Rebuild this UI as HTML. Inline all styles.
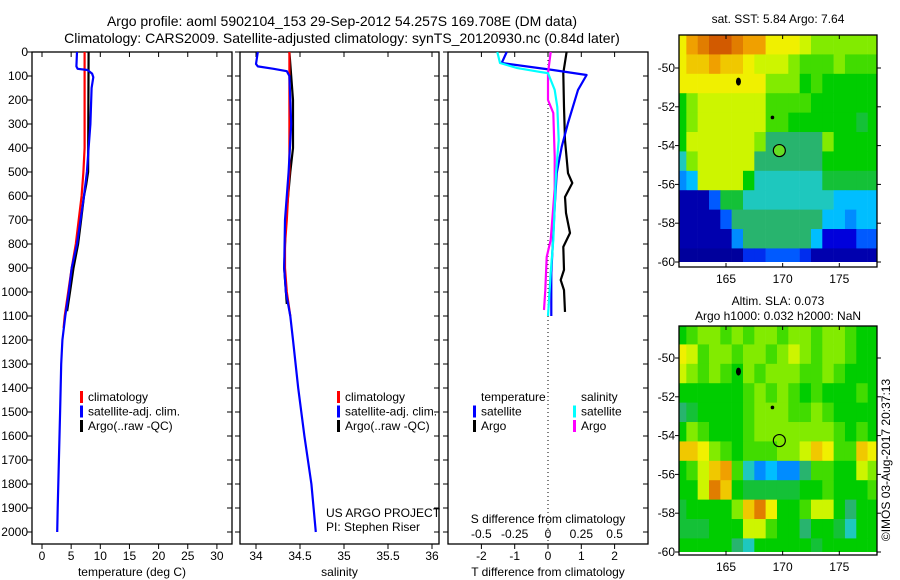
<!DOCTYPE html>
<html><head><meta charset="utf-8">
<style>
html,body{margin:0;padding:0;background:#fff;}
svg{display:block;font-family:"Liberation Sans",sans-serif;}
text{fill:#000;}
</style></head>
<body>
<svg id="chart" width="900" height="580" viewBox="0 0 900 580" xmlns="http://www.w3.org/2000/svg">
<text x="342" y="26" font-size="14" text-anchor="middle">Argo profile: aoml 5902104_153 29-Sep-2012 54.257S 169.708E (DM data)</text>
<text x="342" y="43" font-size="14" text-anchor="middle">Climatology: CARS2009. Satellite-adjusted climatology: synTS_20120930.nc (0.84d later)</text>
<g id="g"></g>
</svg>
<script>
// ---- Temperature panel data (depth m, deg C)
const tSatDepth = [0,60,70,75,90,105,150,300,400,500,600,700,800,900,1000,1100,1200,1300,1500,1700,1900,2000];
const tSatVal   = [6.0,5.9,6.1,7.8,8.6,8.8,8.5,8.3,8.0,7.7,7.2,6.6,6.0,5.1,4.6,4.0,3.5,3.3,3.1,2.9,2.7,2.6];
const tClimDepth = [0,400,500,600,700,800,900,1000,1100,1150];
const tClimVal   = [7.3,7.3,7.1,6.8,6.3,5.8,5.1,4.5,3.9,3.7];
const tArgoDepth = [0,500,550,600,700,800,900,1000,1080];
const tArgoVal   = [8.0,7.9,7.6,7.2,6.7,6.2,5.4,4.8,4.3];
// ---- Salinity panel data
const sSatDepth = [0,50,60,70,80,100,300,500,700,900,1000,1100,1200,1400,1600,1800,2000];
const sSatVal   = [34.02,34.0,34.02,34.2,34.35,34.38,34.4,34.37,34.33,34.32,34.34,34.39,34.42,34.48,34.55,34.63,34.68];
const sClimDepth = [0,500,700,800,900,1000,1100];
const sClimVal   = [34.38,34.38,34.35,34.33,34.33,34.35,34.39];
const sArgoDepth = [0,200,400,500,700,900,1050];
const sArgoVal   = [34.38,34.42,34.42,34.39,34.34,34.32,34.35];
// ---- Difference panel data
const dTSatDepth = [0,46,75,96,158,296,395,505,645,783,920,1100];
const dTSatVal   = [-1.24,-1.39,0.15,1.16,0.9,0.6,0.41,0.26,0.2,0.15,0.1,0.1];
const dTArgoDepth = [0,88,229,367,505,546,604,671,754,812,908,950,992,1083];
const dTArgoVal   = [0.56,0.46,0.48,0.51,0.6,0.73,0.51,0.54,0.66,0.46,0.48,0.38,0.48,0.51];
const dSSatDepth = [0,46,67,83,88,158,229,367,505,645,783,920,1100];
const dSSatVal   = [-0.38,-0.36,-0.23,-0.06,0.0,0.05,0.07,0.08,0.06,0.05,0.04,0.02,0.0];
const dSArgoDepth = [0,88,200,254,437,570,783,854,992,1075];
const dSArgoVal   = [0.02,0.0,0.0,0.04,0.05,0.05,0.02,-0.01,-0.02,-0.03];
// ---- Map data
const mapLons = [161,162,163,164,165,166,167,168,169,170,171,172,173,174,175,176,177,178];
const mapLats = [-48.8,-49.8,-50.8,-51.8,-52.8,-53.8,-54.8,-55.8,-56.8,-57.8,-58.8,-59.8];
const sstGrid = [
 [7,8,8.5,9,9,8.5,8,8,7,7,7,6.5,6,6,6,6,6,6],
 [7,7.5,7.5,8,7.5,7.5,7,6.5,6.5,6.5,6,5.5,5.5,5.5,6,5.5,5.5,5.5],
 [7,7,7,7,7,7,7,7,6,6,6,5,5.5,5,5,5,5,5],
 [5,6,6.5,6.5,6.5,6.5,6.5,6.5,5.5,5.5,5.5,5.5,5,5,5,5,5,5],
 [5,6,6.5,6.5,6.5,6.5,6.5,6.5,5.5,5.5,5,5,5,5,5,5,4.5,5],
 [5,6.5,6.5,6.5,6.5,6.5,6.5,6,4,4,4,4,4,6,5,5,5,5],
 [3.5,6,6.5,6.5,6.5,6.5,6.5,4,4,4,4,4,4,5,5,5,5,5],
 [2.5,3,6.5,6.5,6.5,6.5,5,3.5,3.5,3.5,3.5,3.5,3.5,4.5,4.5,4.5,4.5,4.5],
 [0.5,0.5,0.5,2,4.5,4.5,3.5,3.5,3.5,3.5,3.5,3.5,3.5,3.5,3,3,3,3],
 [0.5,0.5,0.5,0.5,2,4,4,4,4,4,4,4,4,3,3,2.5,3,3],
 [0.5,0.5,0.5,0.5,0.5,2.5,4,4,4,4,4,4,3,1,1,1,2,2],
 [0.3,0.3,0.3,0.3,0.3,0.3,1.5,1.5,2,2,2,1.5,0.5,0.5,0.5,0.5,0.5,0.5]
];
const slaGrid = [
 [5,5.5,6,6,5.5,6,5.5,6,6,5.5,6,6,5.5,6,6,5.5,5,5],
 [7,6.5,5.5,6,6,5.5,6,6,5.5,6,6.5,6,5.5,6,6,5.5,5,5],
 [6.5,6,5.5,6,5.5,5,6,5.5,6,6,6,5.5,5.5,6,5.5,5,5,5],
 [5,5,5,5,5,5,5.5,6,5.5,6,5.5,5,5.5,5,5,5,5.5,5],
 [4,4.5,5,5,5,5,5.5,6,6,6,5.5,5.5,6,5.5,5,5,5,5],
 [5,6,5.5,5,5,5,5.5,6,6,6,6,6,6,6,5.5,5,5.5,5],
 [7.5,7.5,7,6,5.5,5,5.5,5.5,5.5,6,6,6.5,7.5,7,5.5,5.5,7.5,7],
 [5,5.5,6.5,7.5,8,5.5,3.5,2.5,3,2.5,2.5,4,5.5,5.5,5,5,6.5,6],
 [5,5,6.5,8.5,7.5,5,4.5,4.5,4.5,4.5,4.5,5,5,5.5,5,5,5,5.5],
 [4.5,5,5,5,5,6,7.5,8.5,7,5,5,5.5,6.5,6.5,5,4,5,5],
 [4.5,4.5,4.5,5,5,5,6.5,6.5,5.5,5,5,4,5,5,4.5,3.5,5,5],
 [5,5,5,5,5,4,3.5,5,5,5,5,5,4.5,5,5,5,5,5]
];
const argoLon = [169.708], argoLat = [-54.257];

const NS="http://www.w3.org/2000/svg";
const G=document.getElementById('g');
function mk(tag,attrs,parent){const e=document.createElementNS(NS,tag);for(const k in attrs)e.setAttribute(k,attrs[k]);(parent||G).appendChild(e);return e;}
function txt(x,y,s,size,anchor,parent){const t=mk('text',{x:x,y:y,'font-size':size||12,'text-anchor':anchor||'middle'},parent);t.textContent=s;return t;}

const TOP=52, BOT=544, PXM=0.24;
const yD = d => TOP + d*PXM;

function panel(name,x0,x1,xf,ticks,tickLabels,xlabel){
  const g=mk('g',{});
  
  
  const r=mk('rect',{x:x0,y:TOP,width:x1-x0,height:BOT-TOP,fill:'none',stroke:'#000','stroke-width':1.3},g);
  
  
  ticks.forEach((v,i)=>{const x=xf(v);
    mk('line',{x1:x,x2:x,y1:BOT,y2:BOT+5,stroke:'#000'},g);
    mk('line',{x1:x,x2:x,y1:TOP,y2:TOP+5,stroke:'#000'},g);
    if(tickLabels){const t=txt(x,560,tickLabels[i],12,'middle',g);
      
      }
  });
  for(let d=0;d<=2000;d+=100){const y=yD(d);
    mk('line',{x1:x0-5,x2:x0,y1:y,y2:y,stroke:'#000'},g);
    mk('line',{x1:x1-5,x2:x1,y1:y,y2:y,stroke:'#000'},g);}
  if(xlabel){const t=txt((x0+x1)/2,576,xlabel,12,'middle',g);
    
    }
  return g;
}
function line(depths,vals,xf,color,name,w){
  const pts=depths.map((d,i)=>xf(vals[i]).toFixed(1)+','+yD(d).toFixed(1)).join(' ');
  const p=mk('polyline',{points:pts,fill:'none',stroke:color,'stroke-width':w||2.2,'stroke-linejoin':'round'});
  
  
}
function legend(x,entries,yStart){
  entries.forEach((e,i)=>{const y=yStart+i*14.5;
    const m=mk('rect',{x:x,y:y-10,width:3,height:12,fill:e[1]});
    
    
    const t=txt(x+8,y,e[0],12,'start');
    
    });
}

for(let d=0;d<=2000;d+=100){const t=txt(28,yD(d)+4,String(d),12,'end');
  
  }

const xT = v => 42 + v*5.83;
panel('temperature-panel',32,232,xT,[0,5,10,15,20,25,30],['0','5','10','15','20','25','30'],'temperature (deg C)');
line(tArgoDepth,tArgoVal,xT,'#000','temp-argo-line');
line(tClimDepth,tClimVal,xT,'#f00','temp-climatology-line');
line(tSatDepth,tSatVal,xT,'#0000ff','temp-satellite-line');
legend(80,[['climatology','#f00'],['satellite-adj. clim.','#00f'],['Argo(..raw -QC)','#000']],401);

const xS = v => 256 + (v-34)*88;
panel('salinity-panel',240,439,xS,[34,34.5,35,35.5,36],['34','34.5','35','35.5','36'],'salinity');
line(sArgoDepth,sArgoVal,xS,'#000','sal-argo-line');
line(sClimDepth,sClimVal,xS,'#f00','sal-climatology-line');
line(sSatDepth,sSatVal,xS,'#0000ff','sal-satellite-line');
legend(337,[['climatology','#f00'],['satellite-adj. clim.','#00f'],['Argo(..raw -QC)','#000']],401);
txt(326,517,'US ARGO PROJECT',12,'start');
txt(326,531,'PI: Stephen Riser',12,'start');

const xDT = v => 548 + v*33.3;
const xDS = v => 548 + v*133.3;
panel('difference-panel',448,648,xDT,[-2,-1,0,1,2],['-2','-1','0','1','2'],'T difference from climatology');
[-0.5,-0.25,0,0.25,0.5].forEach(v=>{const t=txt(xDS(v),538,String(v),12,'middle');
  
  });
txt(548,523,'S difference from climatology',12,'middle');
const zl=mk('line',{x1:xDT(0),x2:xDT(0),y1:TOP,y2:BOT,stroke:'#000','stroke-dasharray':'1,3'});


line(dTArgoDepth,dTArgoVal,xDT,'#000','dt-argo-line');
line(dTSatDepth,dTSatVal,xDT,'#0000ff','dt-satellite-line');
line(dSArgoDepth,dSArgoVal,xDS,'#ff00ff','ds-argo-line');
line(dSSatDepth,dSSatVal,xDS,'#00ffff','ds-satellite-line');
txt(481,401,'temperature',12,'start');
txt(581,401,'salinity',12,'start');
legend(473,[['satellite','#00f'],['Argo','#000']],415.5);
legend(573,[['satellite','#0ff'],['Argo','#f0f']],415.5);

const cmapStops=[[0,[0,0,128]],[1,[0,0,220]],[2,[0,90,255]],[3,[0,190,255]],[3.5,[30,200,190]],[4,[40,180,110]],[5,[0,205,0]],[6,[130,235,0]],[6.5,[205,245,0]],[7,[240,240,0]],[8,[240,160,0]],[9,[210,90,0]]];
function cmap(v){for(let i=1;i<cmapStops.length;i++){if(v<=cmapStops[i][0]){const a=cmapStops[i-1],b=cmapStops[i];const f=(v-a[0])/(b[0]-a[0]);
  const c=a[1].map((x,k)=>Math.round(x+(b[1][k]-x)*f));return 'rgb('+c.join(',')+')';}}return 'rgb(210,90,0)';}

function drawMap(name,top,bot,lat50y,grid,fillCircle,title1,title2){
  const x0=679,x1=877;
  const px=lon=>726+(lon-165)*11.33;
  const py=lat=>lat50y+(-50-lat)*19.4;
  const g=mk('g',{});
  
  
  const cp=mk('clipPath',{id:name+'-clip'},g);
  mk('rect',{x:x0,y:top,width:x1-x0,height:py(-60)-top},cp);
  const cells=mk('g',{'clip-path':'url(#'+name+'-clip)'},g);
  grid.forEach((row,r)=>row.forEach((v,c)=>{
    const lon=mapLons[c],lat=mapLats[r];
    const cell=mk('rect',{x:px(lon-0.5),y:py(lat+0.5),width:11.6,height:19.8,fill:cmap(v)},cells);
    
    
  }));
  const isl=mk('ellipse',{cx:px(166.1),cy:py(-50.7),rx:2.5,ry:4,fill:'#000'},g);
  
  
  const isl2=mk('circle',{cx:px(169.1),cy:py(-52.55),r:1.8,fill:'#000'},g);
  
  
  const pt=mk('circle',{cx:px(argoLon[0]),cy:py(argoLat[0]),r:6,fill:fillCircle,stroke:'#000','stroke-width':1.2},g);
  
  
  mk('rect',{x:x0,y:top,width:x1-x0,height:bot-top,fill:'none',stroke:'#000','stroke-width':1.3},g);
  [165,170,175].forEach(l=>{const x=px(l);mk('line',{x1:x,x2:x,y1:top,y2:top+4,stroke:'#000'},g);mk('line',{x1:x,x2:x,y1:bot,y2:bot-4,stroke:'#000'},g);
    const t=txt(x,bot+16,String(l),12,'middle',g);
    
    });
  [-50,-52,-54,-56,-58,-60].forEach(l=>{const y=py(l);mk('line',{x1:x0-4,x2:x0,y1:y,y2:y,stroke:'#000'},g);mk('line',{x1:x1,x2:x1+4,y1:y,y2:y,stroke:'#000'},g);
    const t=txt(x0-4,y+4,String(l),12,'end',g);
    
    });
  const t1=txt(778,title2?top-21:top-12,title1,12,'middle',g);
  
  
  if(title2){const t2=txt(778,top-6,title2,12,'middle',g);
    
    }
}
drawMap('sst-map',35,267,68,sstGrid,'#66dd22','sat. SST: 5.84 Argo: 7.64',null);
drawMap('sla-map',326,555,358,slaGrid,'none','Altim. SLA: 0.073','Argo h1000: 0.032 h2000: NaN');
const cr=txt(0,0,'©IMOS 03-Aug-2017 20:37:13',12,'middle');
cr.setAttribute('transform','translate(890,460) rotate(-90)');


</script>
</body></html>
